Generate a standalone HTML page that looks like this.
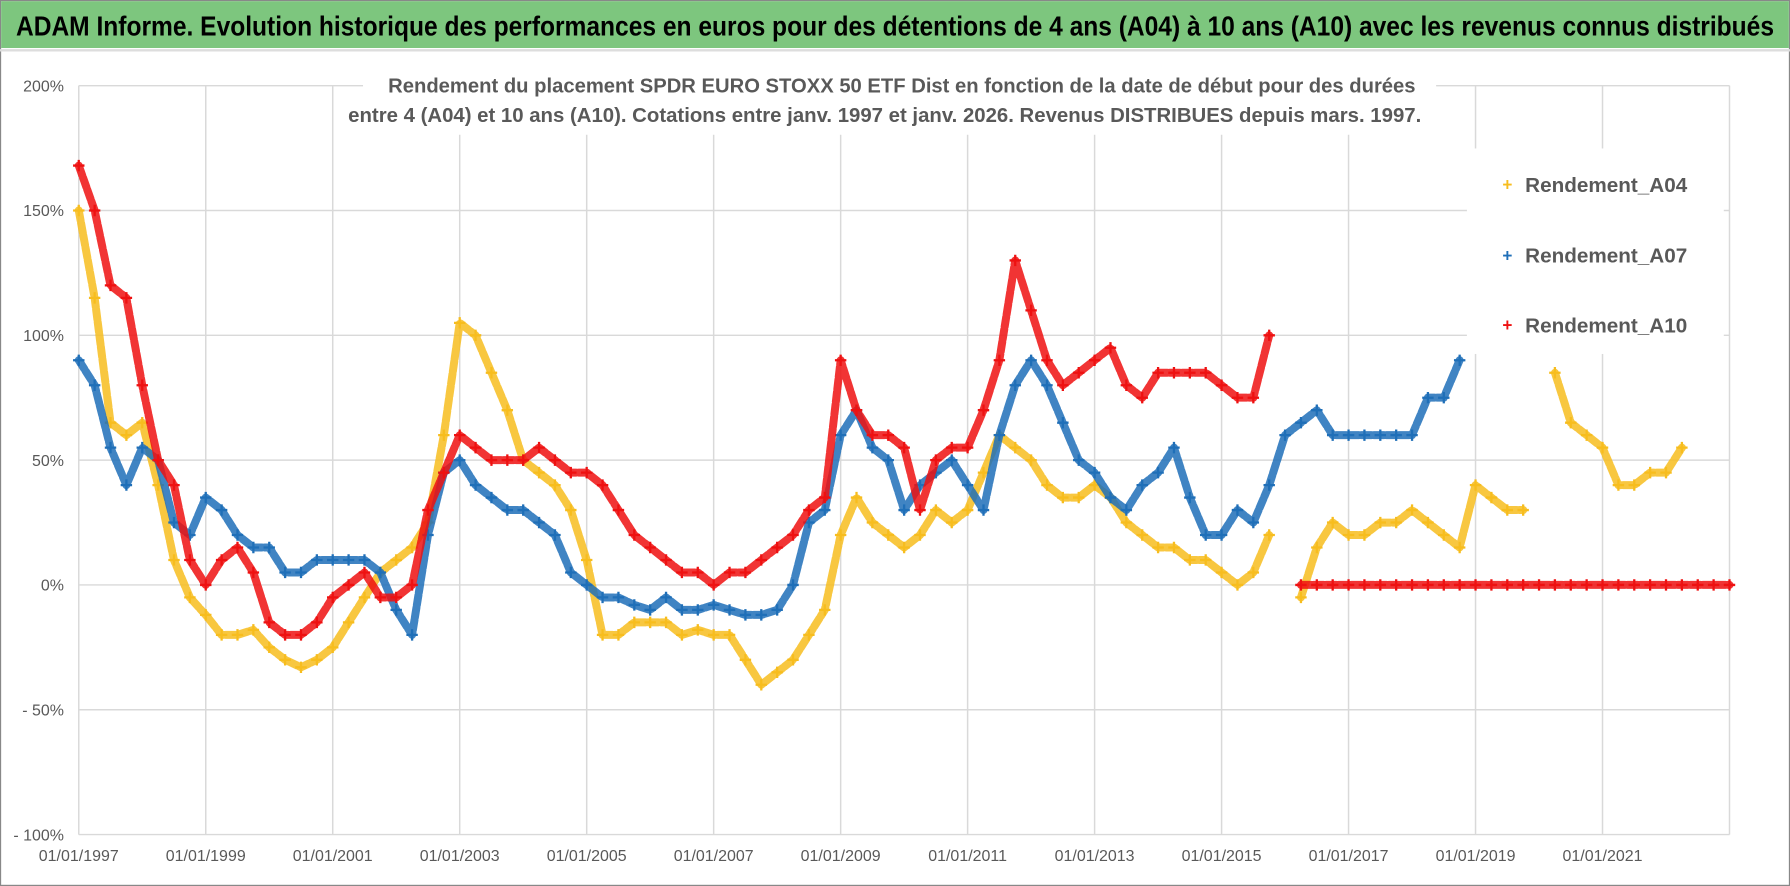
<!DOCTYPE html>
<html><head><meta charset="utf-8"><style>
html,body{margin:0;padding:0;background:#fff}
svg{display:block}
text{font-family:"Liberation Sans Narrow","Liberation Sans",sans-serif}
</style></head><body>
<svg id="chart" width="1790" height="886" viewBox="0 0 1568 776" xmlns="http://www.w3.org/2000/svg">
<rect x="0" y="0" width="1568" height="776" fill="#fff" stroke="#888" stroke-width="2"/>
<rect x="1" y="1" width="1566" height="41" fill="#7dc67e"/>
<line x1="0" y1="44" x2="1568" y2="44" stroke="#ddd" stroke-width="2"/>
<text x="14" y="31" font-size="24" font-weight="bold" fill="#000" textLength="1540" lengthAdjust="spacingAndGlyphs">ADAM Informe. Evolution historique des performances en euros pour des détentions de 4 ans (A04) à 10 ans (A10) avec les revenus connus distribués</text>
<g id="grid"></g>
<g id="yticks"></g>
<g id="xticks"></g>
<rect x="318" y="58" width="940" height="60" fill="#fff"/>
<text x="790" y="81" text-anchor="middle" font-size="18" font-weight="bold" fill="#595959" textLength="900" lengthAdjust="spacingAndGlyphs">Rendement du placement SPDR EURO STOXX 50 ETF Dist en fonction de la date de début pour des durées</text>
<text x="775" y="107" text-anchor="middle" font-size="18" font-weight="bold" fill="#595959" textLength="940" lengthAdjust="spacingAndGlyphs">entre 4 (A04) et 10 ans (A10).  Cotations entre janv. 1997 et janv. 2026. Revenus DISTRIBUES depuis mars. 1997.</text>
<g id="series"></g>
<g>
<rect x="1285" y="130" width="225" height="180" fill="#fff"/>
<g><text x="1316" y="167" font-size="15" fill="#f7bd1e" font-weight="bold">+</text><text x="1336" y="168" font-size="18" font-weight="bold" fill="#595959" textLength="142" lengthAdjust="spacingAndGlyphs">Rendement_A04</text></g>
<g><text x="1316" y="229" font-size="15" fill="#1f6fb8" font-weight="bold">+</text><text x="1336" y="230" font-size="18" font-weight="bold" fill="#595959" textLength="142" lengthAdjust="spacingAndGlyphs">Rendement_A07</text></g>
<g><text x="1316" y="290" font-size="15" fill="#ee1111" font-weight="bold">+</text><text x="1336" y="291" font-size="18" font-weight="bold" fill="#595959" textLength="142" lengthAdjust="spacingAndGlyphs">Rendement_A10</text></g>
</g>
</svg>
<script>
const yTickValues=[200,150,100,50,0,-50,-100];
const yTickLabels=["200%","150%","100%","50%","0%","- 50%","- 100%"];
const xTickYears=[1997,1999,2001,2003,2005,2007,2009,2011,2013,2015,2017,2019,2021,2023];
const xTickLabels=["01/01/1997","01/01/1999","01/01/2001","01/01/2003","01/01/2005","01/01/2007","01/01/2009","01/01/2011","01/01/2013","01/01/2015","01/01/2017","01/01/2019","01/01/2021",""];
const startYear=1997;
const a04=[150,115,65,60,65,40,10,-5,-12,-20,-20,-18,-25,-30,-33,-30,-25,-15,-5,5,10,15,25,60,105,100,85,70,50,45,40,30,10,-20,-20,-15,-15,-15,-20,-18,-20,-20,-30,-40,-35,-30,-20,-10,20,35,25,20,15,20,30,25,30,45,60,55,50,40,35,35,40,35,25,20,15,15,10,10,5,0,5,20,null,-5,15,25,20,20,25,25,30,25,20,15,40,35,30,30,null,85,65,60,55,40,40,45,45,55];
const a07=[90,80,55,40,55,50,25,20,35,30,20,15,15,5,5,10,10,10,10,5,-10,-20,20,45,50,40,35,30,30,25,20,5,0,-5,-5,-8,-10,-5,-10,-10,-8,-10,-12,-12,-10,0,25,30,60,70,55,50,30,40,45,50,40,30,60,80,90,80,65,50,45,35,30,40,45,55,35,20,20,30,25,40,60,65,70,60,60,60,60,60,60,75,75,90];
const a10=[168,150,120,115,80,50,40,10,0,10,15,5,-15,-20,-20,-15,-5,0,5,-5,-5,0,30,45,60,55,50,50,50,55,50,45,45,40,30,20,15,10,5,5,0,5,5,10,15,20,30,35,90,70,60,60,55,30,50,55,55,70,90,130,110,90,80,85,90,95,80,75,85,85,85,85,80,75,75,100,null,0,0,0,0,0,0,0,0,0,0,0,0,0,0,0,0,0,0,0,0,0,0,0,0,0,0,0,0];
const NS="http://www.w3.org/2000/svg";
const L=69,R=1515,T=75,B=731;
function xScale(yr){return L+(yr-1997)/(2023-1997)*(R-L);}
function yScale(v){return B-(v+100)/300*(B-T);}
function mk(tag,attrs,parent){const e=document.createElementNS(NS,tag);for(const k in attrs)e.setAttribute(k,attrs[k]);parent.appendChild(e);return e;}
const grid=document.getElementById('grid'),yt=document.getElementById('yticks'),xt=document.getElementById('xticks'),ser=document.getElementById('series');
yTickValues.forEach((v,i)=>{
  const ln=mk('line',{x1:L,x2:R,y1:yScale(v),y2:yScale(v),stroke:'#d9d9d9','stroke-width':1.3},grid);
  
  
  const t=mk('text',{x:56,y:yScale(v)+5,'text-anchor':'end','font-size':14,fill:'#595959'},yt);
  t.textContent=yTickLabels[i];
  
  
});
xTickYears.forEach((yr,i)=>{
  const ln=mk('line',{x1:xScale(yr),x2:xScale(yr),y1:T,y2:B,stroke:'#d9d9d9','stroke-width':1.3},grid);
  
  
  const t=mk('text',{x:xScale(yr),y:754,'text-anchor':'middle','font-size':14,fill:'#595959'},xt);
  t.textContent=xTickLabels[i];
  
  
});
function drawSeries(arr,color,name){
  const g=mk('g',{},ser);
  
  
  let d='';let pen=false;
  arr.forEach((v,i)=>{if(v===null){pen=false;return;}const x=xScale(startYear+i*0.25),y=yScale(v);d+=(pen?'L':'M')+x.toFixed(1)+' '+y.toFixed(1);pen=true;});
  const p=mk('path',{d:d,fill:'none',stroke:color,'stroke-width':7,'stroke-opacity':0.85,'stroke-linejoin':'round','stroke-linecap':'round','stroke-dasharray':'9 2'},g);
  
  
  arr.forEach((v,i)=>{if(v===null)return;const x=xScale(startYear+i*0.25),y=yScale(v);
    const m=mk('path',{d:`M${x-5} ${y}H${x+5}M${x} ${y-5}V${y+5}`,stroke:color,'stroke-width':2},g);
    
    
  });
}
drawSeries(a04,'#f7bd1e','series-a04');
drawSeries(a07,'#1f6fb8','series-a07');
drawSeries(a10,'#ee1111','series-a10');
</script>
</body></html>
